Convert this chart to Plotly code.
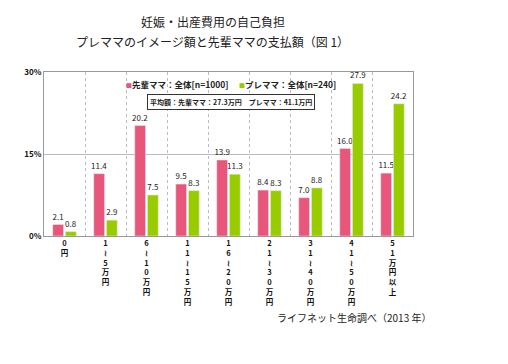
import plotly.graph_objects as go

categories = ["0円", "1≀5万円", "6≀10万円", "11≀15万円", "16≀20万円",
              "21≀30万円", "31≀40万円", "41≀50万円", "51万円以上"]
senpai = [2.1, 11.4, 20.2, 9.5, 13.9, 8.4, 7.0, 16.0, 11.5]
premama = [0.8, 2.9, 7.5, 8.3, 11.3, 8.3, 8.8, 27.9, 24.2]
y_ticks = [0, 15, 30]
y_ticklabels = ["<b>0%</b>", "<b>15%</b>", "<b>30%</b>"]

PINK = "#E8577B"
GREEN = "#99CC00"
FONT = "Noto Sans CJK JP"

def vertical(label):
    return "<b>" + "<br>".join(list(label)) + "</b>"

tick_text = [vertical(c) for c in categories]

fig = go.Figure()
for vals, col, nm in [(senpai, PINK, "先輩ママ：全体[n=1000]"), (premama, GREEN, "プレママ：全体[n=240]")]:
    fig.add_trace(go.Bar(x=categories, y=vals, marker_color=col, name=nm,
                         text=[f"{v:.1f}" for v in vals], textposition="outside",
                         constraintext="none", textangle=0,
                         textfont=dict(size=8, color="#222"), cliponaxis=False))

# page body has an 8px default margin; compensate
OFF = 8
W, H = 508 - OFF, 364 - OFF
L, R, T, B = 44 - OFF, 95, 72 - OFF, 128
PW, PH = W - L - R, H - T - B

fig.update_layout(
    width=W, height=H,
    margin=dict(l=L, r=R, t=T, b=B, autoexpand=False),
    paper_bgcolor="white", plot_bgcolor="white",
    font=dict(family=FONT, size=9, color="#222"),
    barmode="group", bargap=0.38, bargroupgap=0.15,
    showlegend=False,
)
fig.update_xaxes(
    type="category", tickvals=categories, ticktext=tick_text, automargin=False,
    tickson="boundaries", showgrid=True, gridcolor="#BBBBBB", griddash="dot", gridwidth=1,
    showline=True, linecolor="#999999", mirror=True, ticks="",
    tickfont=dict(size=7.5, color="#111", family=FONT), tickangle=0,
)
fig.update_yaxes(
    range=[0, 30], tickvals=y_ticks, ticktext=y_ticklabels, automargin=False,
    showgrid=True, gridcolor="#BBBBBB", gridwidth=1,
    showline=True, linecolor="#999999", mirror=True, ticks="",
    tickfont=dict(size=8, color="#111", family=FONT), zeroline=False,
)

def px(x):
    return (x - OFF - L) / PW

def py(y):
    return (H - B - (y - OFF)) / PH

fig.add_annotation(text="妊娠・出産費用の自己負担", xref="paper", yref="paper",
                   x=px(213), y=py(22), showarrow=False,
                   font=dict(size=12, color="#222", family=FONT), xanchor="center", yanchor="middle")
fig.add_annotation(text="プレママのイメージ額と先輩ママの支払額（図 1）", xref="paper", yref="paper",
                   x=px(212), y=py(41), showarrow=False,
                   font=dict(size=12, color="#222", family=FONT), xanchor="center", yanchor="middle")
fig.add_annotation(
    text=f"<span style='color:{PINK};font-size:6px'>■</span><b>先輩ママ：全体[n=1000]</b>　 <span style='color:{GREEN};font-size:6px'>■</span><b>プレママ：全体[n=240]</b>",
    xref="paper", yref="paper", x=px(231), y=py(84),
    showarrow=False, font=dict(size=8.5, color="#222", family=FONT), xanchor="center", yanchor="middle")
fig.add_annotation(
    text="<b>平均額：先輩ママ：27.3万円　プレママ：41.1万円</b>",
    xref="paper", yref="paper", x=px(231), y=py(102),
    showarrow=False, font=dict(size=7, color="#222", family=FONT), xanchor="center", yanchor="middle",
    bordercolor="#333", borderwidth=1, borderpad=2, bgcolor="white")
fig.add_annotation(
    text="ライフネット生命調べ（2013 年）",
    xref="paper", yref="paper", x=px(354), y=py(317),
    showarrow=False, font=dict(size=10, color="#222", family=FONT), xanchor="center", yanchor="middle")

fig.write_html("out.html")
